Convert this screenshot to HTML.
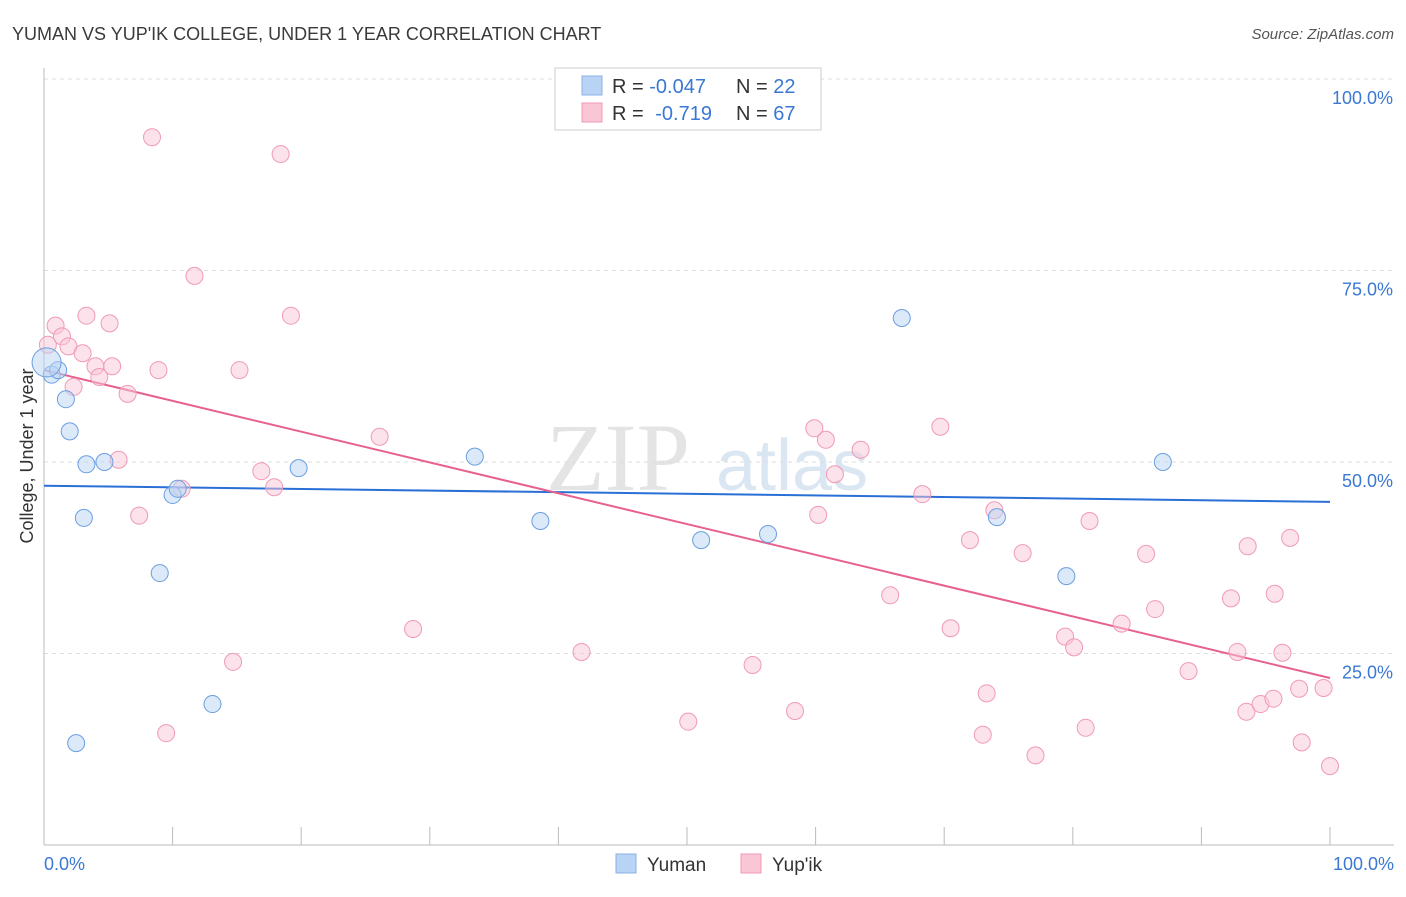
<!DOCTYPE html>
<html><head><meta charset="utf-8"><style>
body{margin:0;background:#fff;font-family:"Liberation Sans",sans-serif}
</style></head><body>
<svg id="chart" width="1406" height="892" xmlns="http://www.w3.org/2000/svg">
<text x="12" y="40" font-size="18" fill="#3a3a3a">YUMAN VS YUP'IK COLLEGE, UNDER 1 YEAR CORRELATION CHART</text>
<text x="1394" y="39" font-size="15" fill="#555" font-style="italic" text-anchor="end">Source: ZipAtlas.com</text>
<text x="690" y="490" font-size="96" fill="#e4e4e4" font-family="Liberation Serif" text-anchor="end">ZIP</text>
<text x="716" y="490" font-size="72" fill="#dbe6f3">atlas</text>
<g id="grid"></g><g id="axes"></g><g id="lines"></g><g id="points"></g>
<text x="33" y="456" font-size="18" fill="#333" text-anchor="middle" transform="rotate(-90 33 456)">College, Under 1 year</text>
<text x="44" y="870" font-size="18" fill="#3a78d4">0.0%</text>
<text x="1394" y="870" font-size="18" fill="#3a78d4" text-anchor="end">100.0%</text>
<g>
<rect x="555" y="68" width="266" height="62" fill="#fff" stroke="#ccc"/>
<rect x="582" y="76" width="20" height="19" fill="#b8d3f4" stroke="#8ab2e6"/>
<rect x="582" y="103" width="20" height="19" fill="#fac6d6" stroke="#f09ab6"/>
<text x="612" y="93" font-size="20" fill="#333">R = <tspan fill="#3a78d4">-0.047</tspan><tspan x="736">N = </tspan><tspan fill="#3a78d4">22</tspan></text>
<text x="612" y="120" font-size="20" fill="#333">R = <tspan fill="#3a78d4" dx="6">-0.719</tspan><tspan x="736">N = </tspan><tspan fill="#3a78d4">67</tspan></text>
</g>
<g>
<rect x="616" y="854" width="20" height="19" fill="#b8d3f4" stroke="#8ab2e6"/>
<text x="647" y="871" font-size="19" fill="#333">Yuman</text>
<rect x="741" y="854" width="20" height="19" fill="#fac6d6" stroke="#f09ab6"/>
<text x="772" y="871" font-size="19" fill="#333">Yup'ik</text>
</g>
</svg>
<script>
const yTicks=[25,50,75,100];
const yTickLabels=["25.0%","50.0%","75.0%","100.0%"];
const xTicks=[0,10,20,30,40,50,60,70,80,90,100];
const yumanX=[0.6,1.1,1.7,2.0,3.3,4.7,3.1,9.0,10.0,10.4,13.1,2.5,19.8,33.5,38.6,51.1,56.3,66.7,74.1,79.5,87.0,0.2];
const yumanY=[61.4,62.0,58.2,54.0,49.7,50.0,42.7,35.5,45.7,46.5,18.4,13.3,49.2,50.7,42.3,39.8,40.6,68.8,42.8,35.1,50.0,63.0];
const yupikX=[0.9,1.4,1.9,3.0,2.3,3.3,5.1,4.0,4.3,5.3,6.5,5.8,8.4,11.7,18.4,19.2,8.9,15.2,7.4,10.7,16.9,17.9,9.5,14.7,26.1,28.7,41.8,50.1,55.1,58.4,59.9,60.8,63.5,61.5,60.2,65.8,68.3,69.7,70.5,72.0,73.3,73.0,73.9,76.1,77.1,79.4,80.1,81.0,81.3,83.8,85.7,86.4,89.0,92.3,92.8,93.6,93.5,94.6,95.6,95.7,96.3,96.9,97.6,97.8,99.5,100,0.3];
const yupikY=[67.8,66.4,65.1,64.2,59.8,69.1,68.1,62.5,61.1,62.5,58.9,50.3,92.4,74.3,90.2,69.1,62.0,62.0,43.0,46.5,48.8,46.7,14.6,23.9,53.3,28.2,25.2,16.1,23.5,17.5,54.4,52.9,51.6,48.4,43.1,32.6,45.8,54.6,28.3,39.8,19.8,14.4,43.7,38.1,11.7,27.2,25.8,15.3,42.3,28.9,38.0,30.8,22.7,32.2,25.2,39.0,17.4,18.4,19.1,32.8,25.1,40.1,20.4,13.4,20.5,10.3,65.3];
const yumanTrend=[46.9,44.8];
const yupikTrend=[62.0,21.8];
const NS="http://www.w3.org/2000/svg";
const xs=v=>44+v*12.86, ys=v=>845-v*7.66;
function mk(p,t,a){const e=document.createElementNS(NS,t);for(const k in a)e.setAttribute(k,a[k]);document.getElementById(p).appendChild(e);return e;}
yTicks.forEach((t,i)=>{
 const l=mk('grid','line',{x1:44,x2:1394,y1:ys(t),y2:ys(t),stroke:'#ddd','stroke-dasharray':'4,4'});
 
 
 const tx=mk('grid','text',{x:1393,y:ys(t)+25,'font-size':18,fill:'#3a78d4','text-anchor':'end'});
 tx.textContent=yTickLabels[i];
 
 
});
let a=mk('axes','line',{x1:44,x2:44,y1:68,y2:845,stroke:'#bbb'});


a=mk('axes','line',{x1:44,x2:1394,y1:845,y2:845,stroke:'#bbb'});


xTicks.forEach(t=>{const l=mk('axes','line',{x1:xs(t),x2:xs(t),y1:827,y2:845,stroke:'#bbb'});
 
 });
function pts(X,Y,fill,stroke,name,big){X.forEach((x,i)=>{const c=mk('points','circle',{cx:xs(x),cy:ys(Y[i]),r:(big&&i===X.length-1)?14.5:8.5,fill:fill,'fill-opacity':0.5,stroke:stroke,'stroke-width':1});
 
 });}
pts(yupikX,yupikY,'#fac6d6','#f09ab6','yupik-point',false);
pts(yumanX,yumanY,'#b8d3f4','#6b9fe0','yuman-point',true);
let t=mk('lines','line',{x1:xs(0),x2:xs(100),y1:ys(yumanTrend[0]),y2:ys(yumanTrend[1]),stroke:'#2a6fd6','stroke-width':2});


t=mk('lines','line',{x1:xs(0),x2:xs(100),y1:ys(yupikTrend[0]),y2:ys(yupikTrend[1]),stroke:'#e8608e','stroke-width':2});


</script>
</body></html>
